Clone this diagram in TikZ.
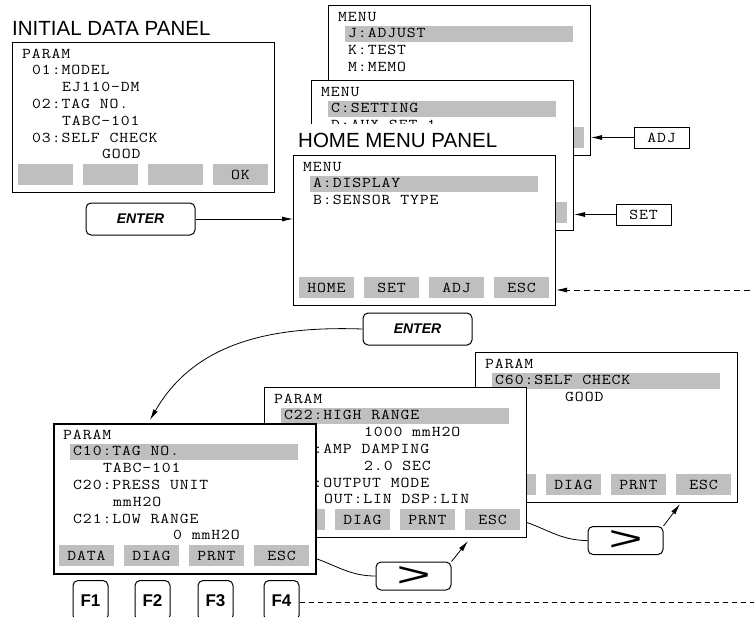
\documentclass[tikz,border=0pt]{standalone}
\usepackage{fontspec}
\usepackage{graphicx}
\setsansfont{Liberation Sans}
\newfontfamily\lcd[FakeStretch=1.15, LetterSpace=6]{Latin Modern Mono}
\usetikzlibrary{arrows.meta}
\definecolor{barGray}{gray}{0.75}

\tikzset{
  panel/.style={draw, fill=white, line width=1pt, minimum width=262pt, minimum height=150pt,
    anchor=north west, inner sep=0pt},
  lcdtext/.style={anchor=base west, inner sep=0pt, font=\lcd\fontsize{15}{17}\selectfont},
  softkey/.style={fill=barGray, minimum width=55pt, minimum height=21pt, inner sep=0pt,
    font=\lcd\fontsize{15}{17}\selectfont},
  keycap/.style={draw, line width=1pt, minimum width=55pt, minimum height=21pt, inner sep=0pt,
    font=\lcd\fontsize{15}{17}\selectfont},
  enterkey/.style={draw, rounded corners=5pt, line width=1pt, minimum width=109pt, minimum height=32pt,
    inner sep=0pt, font=\sffamily\bfseries\itshape\fontsize{14}{17}\selectfont},
  nextkey/.style={draw, rounded corners=5pt, line width=1pt, minimum width=75pt, minimum height=28pt,
    inner sep=0pt},
  fkey/.style={draw, rounded corners=5pt, line width=1pt, minimum width=35pt, minimum height=40pt,
    anchor=north, inner sep=0pt, font=\sffamily\bfseries\fontsize{17}{20}\selectfont},
  title/.style={anchor=base west, font=\sffamily\fontsize{20.5}{24}\selectfont},
  arr/.style={-{Latex[length=11pt,width=5pt]}, line width=0.8pt},
}

% one LCD panel: [extra style] name, top-left corner, highlighted row, col/text lines, soft keys
\newcommand\lcdpanel[6][]{%
  \begin{scope}[shift={(#3)}]
    \node[panel,#1] (#2) at (0,0) {};
    \ifnum#4>-1 \fill[barGray] (17,4.2+16.8*#4) rectangle (245,20.2+16.8*#4);\fi
    \foreach \cc/\tx [count=\rw from 0] in {#5}
      \node[lcdtext] (#2-r\rw) at (10+10*\cc,16+16.8*\rw) {\tx};
    \foreach \lab [count=\n from 0] in {#6}
      \node[softkey] (#2-k\n) at (33.5+65*\n,132.5) {\lab};
  \end{scope}}

\begin{document}
\begin{tikzpicture}[x=1pt,y=-1pt]
\useasboundingbox (0,0) rectangle (754,616);
\clip (0,0) rectangle (754,616);

% initial data panel
\node[title, inner sep=0pt] (initTitle) at (12,35) {INITIAL DATA PANEL};
\lcdpanel{init}{12,42}{-1}{0/PARAM, 1/01:MODEL, 4/EJ110-DM, 1/02:TAG NO., 4/TABC-101,
  1/03:SELF CHECK, 8/GOOD}{{},{},{},OK}

% menu panels, back to front
\lcdpanel{adjust}{328,5}{1}{0/MENU, 1/J:ADJUST, 1/K:TEST, 1/M:MEMO}{{},{},{},{}}
\lcdpanel{setting}{311,80}{1}{0/MENU, 1/C:SETTING, 1/D:AUX SET 1}{{},{},{},{}}
\node[title, fill=white, inner xsep=3pt, inner ysep=8.5pt] (homeTitle) at (295,147) {HOME MENU PANEL};
\lcdpanel{home}{293,155}{1}{0/MENU, 1/A:DISPLAY, 1/B:SENSOR TYPE}{HOME,SET,ADJ,ESC}

\node[keycap] (adjkey) at (661.5,137.5) {ADJ};
\node[keycap] (setkey) at (643.5,214.5) {SET};
\node[enterkey] (enter1) at (140.5,219) {ENTER};
\node[enterkey] (enter2) at (417.5,329) {ENTER};

% parameter panels
\lcdpanel{c60}{475,352}{1}{0/PARAM, 1/C60:SELF CHECK, 8/GOOD}{DATA,DIAG,PRNT,ESC}
\lcdpanel{c22}{264,387}{1}{0/PARAM, 1/C22:HIGH RANGE, 9/1000 mmH2O, 1/C23:AMP DAMPING,
  9/2.0 SEC, 1/C24:OUTPUT MODE, 5/OUT:LIN DSP:LIN}{DATA,DIAG,PRNT,ESC}
\lcdpanel[line width=1.6pt]{c10}{53,423}{1}{0/PARAM, 1/C10:TAG NO., 4/TABC-101, 1/C20:PRESS UNIT,
  5/mmH2O, 1/C21:LOW RANGE, 11/0 mmH2O}{DATA,DIAG,PRNT,ESC}

\node[nextkey] (gt1) at (413.5,576) {\resizebox{34pt}{20pt}{\sffamily >}};
\node[nextkey] (gt2) at (625.5,540.5) {\resizebox{34pt}{20pt}{\sffamily >}};

\node[fkey] (F1) at (90.5,580) {F1};
\node[fkey] (F2) at (152.5,580) {F2};
\node[fkey] (F3) at (215.5,580) {F3};
\node[fkey] (F4) at (281.5,580) {F4};

\coordinate (rimA) at (760,290);
\coordinate (rimB) at (760,602);

% connectors
\draw[arr] (enter1.east) -- (enter1.east -| home.west);
\draw[arr] (adjkey.west) -- (adjkey.west -| adjust.east);
\draw[arr] (setkey.west) -- (setkey.west -| setting.east);
\draw[arr, dash pattern=on 6pt off 4pt] (rimA) -- (rimA -| home.east);
\draw[line width=0.8pt, dash pattern=on 5pt off 4pt] ([yshift=-2pt]F4.east) -- ([yshift=-2pt]F4.east -| rimB);
\draw[arr] (enter2.west) to[out=178,in=60] ([xshift=97pt,yshift=3pt]c10.north west);
\draw[line width=0.8pt] ([yshift=-60pt]c10.east) to[out=-20,in=180] (gt1.west);
\draw[arr] (gt1.north east) -- ([xshift=204pt,yshift=-3pt]c22.south west);
\draw[line width=0.8pt] ([yshift=-60pt]c22.east) to[out=-20,in=180] (gt2.west);
\draw[arr] (gt2.north east) -- ([xshift=205pt,yshift=-1pt]c60.south west);
\end{tikzpicture}
\end{document}
